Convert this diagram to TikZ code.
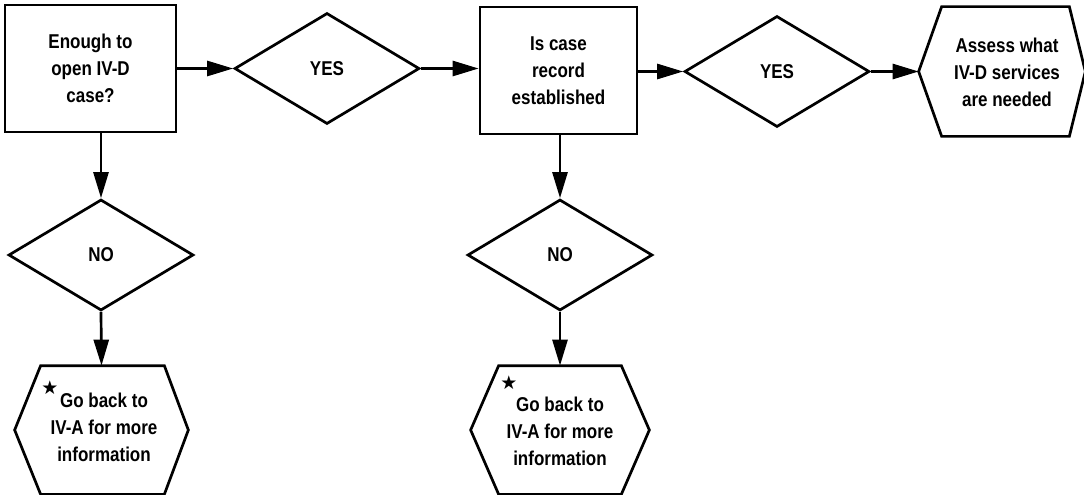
\documentclass[tikz,border=0pt]{standalone}
\usepackage{fontspec}
\setmainfont{Liberation Sans}[FakeStretch=0.85]
\newfontfamily\symfont{DejaVu Sans}
\usetikzlibrary{arrows.meta,shapes.geometric}
\begin{document}
\begin{tikzpicture}[x=1pt,y=-1pt,line width=2.7pt,
  flow/.style={-{Triangle[length=26pt,width=15pt]}},
  boxtext/.style={font=\bfseries\fontsize{20}{27}\selectfont,align=center},
  procbox/.style={draw,boxtext,inner sep=0pt},
  choice/.style={draw,diamond,boxtext,inner sep=0pt,minimum width=185pt,minimum height=111pt},
  hexarea/.style={inner sep=0pt},
  hextext/.style={boxtext,inner sep=0pt},
  starmark/.style={font=\symfont\fontsize{19}{19}\selectfont,inner sep=0pt}]
\useasboundingbox (0,0) rectangle (1084,495);
\fill[white] (0,0) rectangle (1084,495);

% first question and its branches
\node[procbox,minimum width=171pt,minimum height=127pt] (q1) at (90.5,68.5) {Enough to\\open IV-D\\case?};
\node[choice] (yes1) at (327,68.5) {YES};
\node[choice] (no1) at (101,255) {NO};

% second question and its branches
\node[procbox,minimum width=157pt,minimum height=127pt] (q2) at (558.5,70.5) {Is case\\record\\established};
\node[choice] (yes2) at (777,71.5) {YES};
\node[choice] (no2) at (560,255) {NO};

% terminal hexagons
\node[hexarea,minimum width=164pt,minimum height=127pt] (assess) at (1002,71.5) {};
\node[hextext] (assesstxt) at (1007,72) {Assess what\\IV-D services\\are needed};
\draw (assess.west) -- ([xshift=23pt]assess.north west) -- ([xshift=-16pt]assess.north east)
  -- (assess.east) -- ([xshift=-16pt]assess.south east) -- ([xshift=23pt]assess.south west) -- cycle;

\node[hexarea,minimum width=171pt,minimum height=126pt] (back1) at (101.5,430) {};
\node[hextext] (back1txt) at (104,427) {Go back to\\IV-A for more\\information};
\node[starmark] (star1) at (50,388) {★};
\draw (back1.west) -- ([xshift=26pt]back1.north west) -- ([xshift=-24pt]back1.north east)
  -- (back1.east) -- ([xshift=-24pt]back1.south east) -- ([xshift=26pt]back1.south west) -- cycle;

\node[hexarea,minimum width=176pt,minimum height=126pt] (back2) at (560,430) {};
\node[hextext] (back2txt) at (560,431) {Go back to\\IV-A for more\\information};
\node[starmark] (star2) at (509,383) {★};
\draw (back2.west) -- ([xshift=28pt]back2.north west) -- ([xshift=-28pt]back2.north east)
  -- (back2.east) -- ([xshift=-28pt]back2.south east) -- ([xshift=28pt]back2.south west) -- cycle;

% connectors
\draw[flow] (q1.east |- yes1.west) -- (yes1.west);
\draw[flow] (yes1.east) -- (yes1.east -| q2.west);
\draw[flow] (q2.east |- yes2.west) -- (yes2.west);
\draw[flow] (yes2.east) -- (assess.west);
\draw[flow] (q1.south -| no1.north) -- (no1.north);
\draw[flow] (no1.south) -- (back1.north);
\draw[flow] (q2.south -| no2.north) -- (no2.north);
\draw[flow] (no2.south) -- (back2.north);
\end{tikzpicture}
\end{document}
